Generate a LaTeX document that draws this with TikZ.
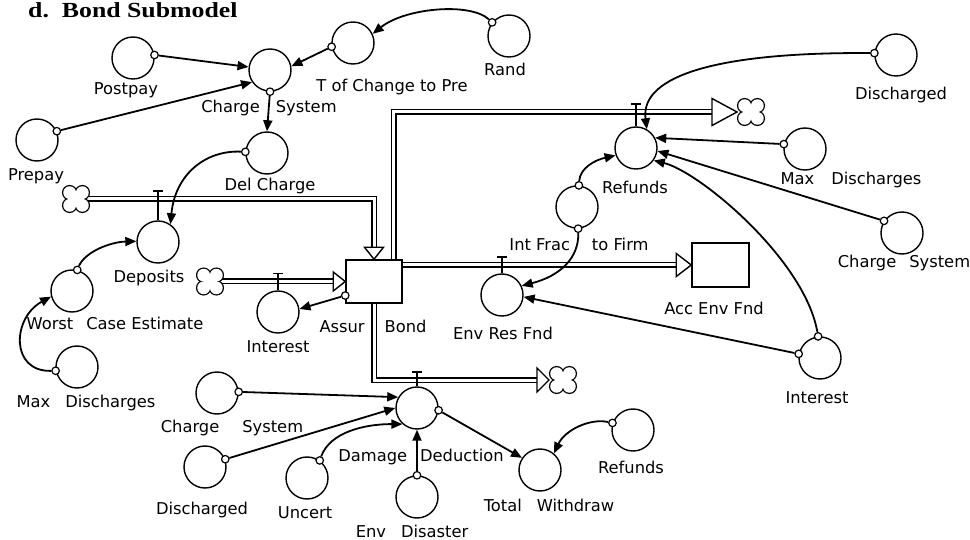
\documentclass[tikz,border=0pt]{standalone}
\usepackage{fontspec}
\usepackage{graphicx}
\setmainfont{DejaVu Sans}
\newfontfamily\titlefont{Liberation Serif}
\usetikzlibrary{arrows.meta,calc}
\newcommand{\pipehead}[4]{%
  \draw[line width=1.4pt, fill=white, line join=miter, shift={(#1)}, rotate=#2] (0,0) -- (-#3,#4/2) -- (-#3,-#4/2) -- cycle;}
\newcommand{\cloudshape}[1]{%
  \foreach \a in {45,135,225,315}{\fill[black] ($(#1)+(\a:9)$) circle (7.7);}
  \foreach \a in {45,135,225,315}{\fill[white] ($(#1)+(\a:9)$) circle (6.4);}
  \fill[white] ($(#1)+(-6.5,-6.5)$) rectangle ($(#1)+(6.5,6.5)$);}
\newcommand{\valvemark}[2]{%
  \draw[line width=1.3pt] ($(#1.north |- #2)+(-5,-8)$) -- ($(#1.north |- #2)+(5,-8)$);
  \draw[line width=1.3pt] ($(#1.north |- #2)+(0,-8)$) -- (#1.north);}
\tikzset{
  aux/.style={circle, draw, line width=1.4pt, minimum size=42pt, inner sep=0pt, fill=white},
  sm/.style={circle, draw, line width=1.2pt, minimum size=7.5pt, inner sep=0pt, fill=white},
  conn/.style={line width=1.8pt, -{Triangle[length=11pt,width=9pt]}},
  pipe/.style={line width=1.5pt, double=white, double distance=3pt, line join=miter},
  stockbox/.style={draw, line width=1.5pt, fill=white, minimum width=56pt, minimum height=43pt, inner sep=0pt},
  lbl/.style={font=\fontsize{16.3}{19}\selectfont, inner sep=0pt},
}
\begin{document}
\begin{tikzpicture}[x=1pt,y=-1pt]
\useasboundingbox (0,0) rectangle (970,540);
% title
\node[anchor=west, inner sep=0pt] (title) at (28,10) {\scalebox{1.2}[1]{\titlefont\fontsize{21.5}{24}\selectfont\bfseries d.\ \ Bond Submodel}};
% stocks
\node[stockbox] (assur) at (374,281.5) {};
\node[stockbox, minimum width=57pt, minimum height=44pt] (acc) at (720.5,265) {};
% converters
\node[aux] (postpay) at (133,58) {};
\node[aux] (cs1) at (270,70) {};
\node[aux] (prepay) at (37,140) {};
\node[aux] (tcp) at (353,43) {};
\node[aux] (rand) at (509,36) {};
\node[aux] (delc) at (267,153) {};
\node[aux] (dep) at (158,242) {};
\node[aux] (worst) at (72,291) {};
\node[aux] (md1) at (77,367) {};
\node[aux] (int1) at (278,312) {};
\node[aux] (r1) at (636,148) {};
\node[aux] (iff) at (577,207) {};
\node[aux] (erf) at (502,295) {};
\node[aux] (int2) at (820,358) {};
\node[aux] (d2) at (896,55) {};
\node[aux] (md2) at (805,149) {};
\node[aux] (cs3) at (902,233) {};
\node[aux] (dd) at (417,408) {};
\node[aux] (cs2) at (217,393) {};
\node[aux] (d3) at (205,467) {};
\node[aux] (unc) at (307,478) {};
\node[aux] (env) at (417,497) {};
\node[aux] (tw) at (540,470) {};
\node[aux] (r2) at (633,430) {};
% pipes
\coordinate (c1) at (76,199);
\coordinate (c2) at (210,281.5);
\coordinate (c3) at (751,112);
\coordinate (c4) at (563,380);
\coordinate (p3s) at ($(assur.north east)+(-9,0)$);
\coordinate (p3tip) at ($(c3)+(-14,0)$);
\coordinate (p5tip) at ($(c4)+(-14,0)$);
\draw[pipe] (c1) -- (assur.north |- c1) -- ($(assur.north)+(0,-11)$);
\draw[pipe] (c2) -- ($(assur.west)+(-11,0)$);
\draw[pipe] (p3s) -- (p3s |- c3) -- ($(p3tip)+(-24,0)$);
\draw[pipe] (assur.east |- acc.west) -- ($(acc.west)+(-14,0)$);
\draw[pipe] (assur.south) -- (assur.south |- c4) -- ($(p5tip)+(-11,0)$);
\pipehead{assur.north}{-90}{12}{19}
\pipehead{assur.west}{0}{12}{19}
\pipehead{p3tip}{0}{25}{27}
\pipehead{acc.west}{0}{15}{23}
\pipehead{p5tip}{0}{12}{24}
\cloudshape{c1}
\cloudshape{c2}
\cloudshape{c3}
\cloudshape{c4}
% valves
\valvemark{dep}{c1}
\valvemark{int1}{c2}
\valvemark{r1}{c3}
\valvemark{erf}{acc.west}
\valvemark{dd}{c4}
% connector origins
\node[sm] (o-postpay) at (postpay.8) {};
\node[sm] (o-prepay) at (prepay.24) {};
\node[sm] (o-tcp) at (tcp.190) {};
\node[sm] (o-rand) at (rand.141) {};
\node[sm] (o-cs1) at (cs1.270) {};
\node[sm] (o-delc) at (delc.177) {};
\node[sm] (o-worst) at (worst.76) {};
\node[sm] (o-md1) at (md1.190) {};
\node[sm] (o-assur) at (assur.206) {};
\node[sm] (o-ifft) at (iff.85) {};
\node[sm] (o-iffb) at (iff.273) {};
\node[sm] (o-int2t) at (int2.95) {};
\node[sm] (o-int2l) at (int2.169) {};
\node[sm] (o-d2) at (d2.175) {};
\node[sm] (o-md2) at (md2.167) {};
\node[sm] (o-cs3) at (cs3.146) {};
\node[sm] (o-dd) at (dd.-6) {};
\node[sm] (o-cs2) at (cs2.3) {};
\node[sm] (o-d3) at (d3.21) {};
\node[sm] (o-unc) at (unc.54) {};
\node[sm] (o-env) at (env.90) {};
\node[sm] (o-r2) at (r2.161) {};
% connectors
\draw[conn] (o-postpay) -- (cs1.172);
\draw[conn] (o-prepay) -- (cs1.214);
\draw[conn] (o-tcp) -- (cs1.10);
\draw[conn] (o-rand) .. controls (470,2) and (405,8) .. (tcp.25);
\draw[conn] (o-cs1) -- (delc.90);
\draw[conn] (o-delc) .. controls (205,150) and (175,175) .. (dep.55);
\draw[conn] (o-worst) .. controls (85,252) and (110,242) .. (dep.178);
\draw[conn] (o-md1) .. controls (10,372) and (12,318) .. (worst.195);
\draw[conn] (o-assur) -- (int1.8);
\draw[conn] (o-ifft) .. controls (580,168) and (595,160) .. (r1.200);
\draw[conn] (o-iffb) .. controls (579,258) and (560,276) .. (erf.25);
\draw[conn] (o-int2t) .. controls (805,260) and (700,172) .. (r1.-35);
\draw[conn] (o-int2l) -- (erf.-5);
\draw[conn] (o-d2) .. controls (720,52) and (640,75) .. (r1.60);
\draw[conn] (o-md2) -- (r1.28);
\draw[conn] (o-cs3) -- (r1.-8);
\draw[conn] (o-cs2) -- (dd.150);
\draw[conn] (o-d3) -- (dd.180);
\draw[conn] (o-unc) .. controls (330,432) and (365,424) .. (dd.228);
\draw[conn] (o-env) -- (dd.270);
\draw[conn] (o-dd) -- (tw.146);
\draw[conn] (o-r2) .. controls (590,418) and (565,430) .. (tw.50);
% labels
\node[lbl] (l-postpay) at (126,90) {Postpay};
\node[lbl] (l-cs1) at (269,108) {Charge\hspace{16pt}System};
\node[lbl] (l-prepay) at (36,176) {Prepay};
\node[lbl] (l-tcp) at (392,87) {T of Change to Pre};
\node[lbl] (l-rand) at (505,69) {Rand};
\node[lbl] (l-delc) at (270,186) {Del Charge};
\node[lbl] (l-dep) at (149,278) {Deposits};
\node[lbl] (l-worst) at (115,323) {Worst\hspace{13pt}Case Estimate};
\node[lbl] (l-md1) at (86,403) {Max\hspace{15pt}Discharges};
\node[lbl] (l-int1) at (278,347) {Interest};
\node[lbl] (l-assur) at (373,326) {Assur\hspace{20pt}Bond};
\node[lbl] (l-iff) at (579,244) {Int Frac\hspace{22pt}to Firm};
\node[lbl] (l-erf) at (503,333) {Env Res Fnd};
\node[lbl] (l-r1) at (635,187) {Refunds};
\node[lbl] (l-acc) at (714,308) {Acc Env Fnd};
\node[lbl] (l-int2) at (817,398) {Interest};
\node[lbl] (l-d2) at (901,95) {Discharged};
\node[lbl] (l-md2) at (851,180) {Max\hspace{17pt}Discharges};
\node[lbl] (l-cs3) at (904,263) {Charge\hspace{13pt}System};
\node[lbl] (l-cs2) at (232,428) {Charge\hspace{23pt}System};
\node[lbl] (l-d3) at (202,510) {Discharged};
\node[lbl] (l-unc) at (305,513) {Uncert};
\node[lbl] (l-dd) at (421,457) {Damage\hspace{13pt}Deduction};
\node[lbl] (l-env) at (412,531) {Env\hspace{15pt}Disaster};
\node[lbl] (l-tw) at (549,505) {Total\hspace{15pt}Withdraw};
\node[lbl] (l-r2) at (631,467) {Refunds};
\end{tikzpicture}
\end{document}
